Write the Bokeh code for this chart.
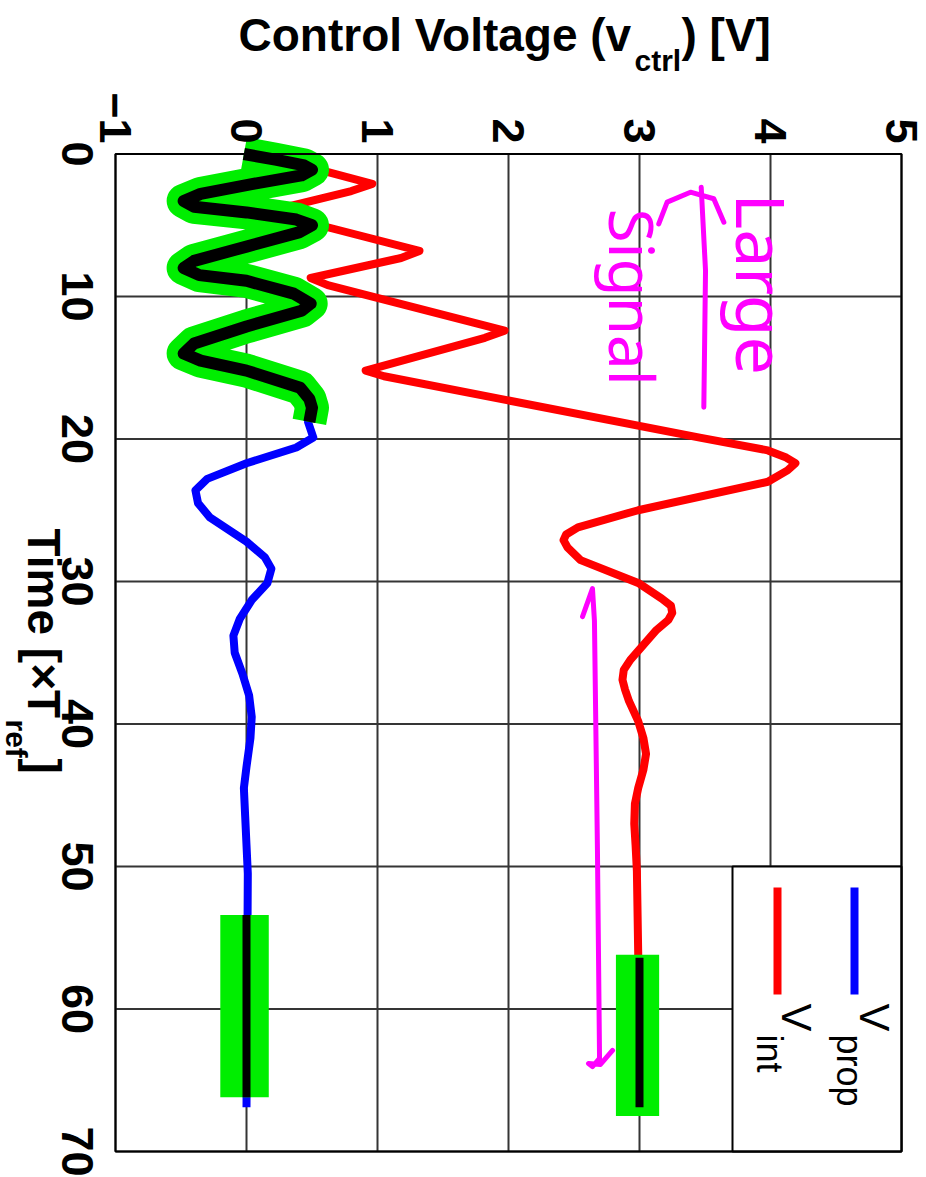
import math
from bokeh.plotting import figure
from bokeh.models import Range1d, FixedTicker, Label
from bokeh.embed import file_html
from bokeh.resources import INLINE

# ---------------- data ----------------
time_ticks = [0, 10, 20, 30, 40, 50, 60, 70]
time_tick_labels = ["0", "10", "20", "30", "40", "50", "60", "70"]
volt_ticks = [-1, 0, 1, 2, 3, 4, 5]
volt_tick_labels = ["\u22121", "0", "1", "2", "3", "4", "5"]
t_min, t_max = 0, 70
v_min, v_max = -1, 5

# v_int (red)
vint_t = [0.0, 1.16, 2.1, 2.6, 4.0, 5.0, 6.8, 7.3, 8.7, 9.2, 12.4, 12.9, 15.2, 15.6,
          19.9, 20.8, 21.3, 21.7, 22.2, 23.0, 25.0, 26.2, 26.7, 27.1, 27.6, 28.5, 30.1,
          31.2, 31.7, 32.2, 32.7, 33.4, 35.5, 36.2, 36.9, 37.6, 38.4, 39.8, 41.0, 42.1,
          43.2, 44.5, 45.6, 47.0, 48.5, 50.3, 56.0, 66.9]
vint_v = [0.47, 0.58, 0.96, 0.80, 0.18, 0.56, 1.32, 1.18, 0.49, 0.62, 1.97, 1.82, 0.91, 1.05,
          3.46, 3.98, 4.12, 4.19, 4.13, 3.98, 2.99, 2.53, 2.44, 2.42, 2.45, 2.55, 2.99,
          3.17, 3.24, 3.25, 3.22, 3.13, 2.93, 2.88, 2.87, 2.89, 2.92, 2.99, 3.03, 3.05,
          3.03, 2.99, 2.965, 2.96, 2.97, 2.98, 2.99, 3.00]

# v_prop (blue)
vprop_t = [0.0, 1.0, 2.1, 3.0, 3.5, 3.9, 5.0, 6.5, 8.0, 8.9, 10.5, 12.1, 14.0, 15.2,
           16.4, 17.8, 18.8, 19.9, 20.6, 21.7, 22.8, 23.6, 24.5, 25.5, 27.2, 28.3,
           29.1, 30.1, 31.3, 32.6, 33.8, 35.0, 36.5, 38.0, 39.5, 41.0, 43.0, 44.5,
           46.5, 48.5, 50.5, 66.9]
vprop_v = [0.0, 0.48, 0.0, -0.40, -0.31, 0.18, 0.50, 0.0, -0.47, 0.0, 0.49, 0.0, -0.48, 0.0,
           0.41, 0.49, 0.47, 0.51, 0.38, 0.0, -0.30, -0.39, -0.37, -0.28, 0.0, 0.14,
           0.19, 0.16, 0.04, -0.05, -0.10, -0.09, -0.03, 0.02, 0.04, 0.03, 0.0, -0.02,
           -0.01, 0.0, 0.01, 0.0]

# hand-drawn black trace over the small-signal part (with green highlight)
trace_t = [0.0, 0.4, 0.8, 1.1, 1.5, 2.1, 2.8, 3.3, 3.7, 4.1, 4.6, 5.0, 5.5, 6.5, 7.5,
           8.0, 8.5, 8.9, 9.8, 10.5, 11.0, 12.1, 13.3, 14.0, 14.5, 15.2, 16.4, 17.2,
           17.8, 18.8]
trace_v = [-0.02, 0.22, 0.44, 0.50, 0.42, 0.05, -0.35, -0.48, -0.40, 0.0, 0.38, 0.50, 0.40,
           0.0, -0.40, -0.48, -0.36, 0.0, 0.36, 0.49, 0.42, 0.0, -0.40, -0.48, -0.35, 0.0,
           0.41, 0.48, 0.50, 0.48]

# settled-value black marks and green highlight boxes
settle_v = [0.0, 3.0]
settle_t0 = [53.4, 56.4]
settle_t1 = [66.2, 66.9]
hl_left = [-0.20, 2.82]
hl_right = [0.17, 3.15]
hl_t0 = [53.4, 56.2]
hl_t1 = [66.2, 67.5]

# magenta hand annotations
arrow_t = [32.46, 30.5, 32.74, 48.88, 63.47, 64.04, 63.82, 63.89, 62.91]
arrow_v = [2.565, 2.641, 2.656, 2.679, 2.695, 2.641, 2.611, 2.702, 2.794]
bar_t = [2.33, 8.18, 17.77]
bar_v = [3.471, 3.504, 3.491]
brace_t = [4.90, 3.38, 2.68, 3.14, 4.79]
brace_v = [3.147, 3.211, 3.389, 3.567, 3.644]

# ---------------- layout helpers (pixel -> data) ----------------
W, H = 926, 1177
FR_L, FR_T, FR_W, FR_H = 115, 153.5, 786, 997.5
def vx(px):
    return v_min + (px - FR_L) / (FR_W / (v_max - v_min))
def ty(py):
    return t_min + (py - FR_T) / (FR_H / (t_max - t_min))

FONT = "Liberation Sans"
TICK_PX = 45

# the canvas-wide frame lets titles sit outside the plotting box without being clipped
p = figure(width=W, height=H, x_range=Range1d(vx(0), vx(W)), y_range=Range1d(ty(H), ty(0)),
           x_axis_location="above", output_backend="svg", toolbar_location=None, tools="",
           min_border=0, min_border_left=0, min_border_right=0, min_border_top=0,
           min_border_bottom=0)
p.title.visible = False
p.background_fill_color = "white"
p.border_fill_color = "white"
p.outline_line_color = None
p.xgrid.visible = False
p.ygrid.visible = False

# rotated time labels are end-anchored by Bokeh: move each anchor by half the label length
half_len = [len(s) * 0.556 * TICK_PX / 2 * (t_max - t_min) / FR_H for s in time_tick_labels]
time_label_pos = [round((t + h) * 8) / 8 for t, h in zip(time_ticks, half_len)]

for ax, ticks in ((p.xaxis[0], volt_ticks), (p.yaxis[0], time_label_pos)):
    ax.ticker = FixedTicker(ticks=ticks)
    ax.major_tick_in = 0
    ax.major_tick_out = 0
    ax.minor_tick_in = 0
    ax.minor_tick_out = 0
    ax.axis_line_color = None
    ax.major_label_text_font = FONT
    ax.major_label_text_font_style = "bold"
    ax.major_label_text_font_size = f"{TICK_PX}px"
    ax.major_label_text_color = "black"
    ax.major_label_orientation = -math.pi / 2
p.xaxis[0].major_label_overrides = {t: s for t, s in zip(volt_ticks, volt_tick_labels)}
p.yaxis[0].major_label_overrides = {t: s for t, s in zip(time_label_pos, time_tick_labels)}
p.xaxis[0].major_label_standoff = -143
p.yaxis[0].major_label_standoff = -77

# grid lines inside the plotting box
GRID = "#353535"
p.segment(x0=volt_ticks, y0=[t_min] * len(volt_ticks), x1=volt_ticks, y1=[t_max] * len(volt_ticks),
          line_color=GRID, line_width=2)
p.segment(x0=[v_min] * len(time_ticks), y0=time_ticks, x1=[v_max] * len(time_ticks), y1=time_ticks,
          line_color=GRID, line_width=2)

# legend box (covers the grid)
p.quad(left=[vx(732)], right=[v_max], top=[ty(866)], bottom=[t_max], fill_color="white",
       line_color="black", line_width=2)

# curves
p.line(vprop_v, vprop_t, line_color="#0000ff", line_width=8, line_join="round")
p.line(vint_v, vint_t, line_color="#ff0000", line_width=8, line_join="round")

# highlights
p.line(trace_v, trace_t, line_color="#00ee00", line_width=34, line_join="round", line_cap="butt")
p.quad(left=hl_left, right=hl_right, top=hl_t0, bottom=hl_t1, fill_color="#00ee00", line_color=None)
p.line(trace_v, trace_t, line_color="black", line_width=12, line_join="round")
p.segment(x0=settle_v, y0=settle_t0, x1=settle_v, y1=settle_t1, line_color="black", line_width=8)

# magenta annotations
MAG = "#ff00ff"
for xs, ys in ((arrow_v, arrow_t), (bar_v, bar_t), (brace_v, brace_t)):
    p.line(xs, ys, line_color=MAG, line_width=5, line_join="round", line_cap="round")

# legend samples
p.segment(x0=[vx(854)], y0=[ty(887)], x1=[vx(854)], y1=[ty(994)], line_color="#0000ff", line_width=8)
p.segment(x0=[vx(777)], y0=[ty(887)], x1=[vx(777)], y1=[ty(994)], line_color="#ff0000", line_width=8)

# plotting box outline
p.quad(left=[v_min], right=[v_max], top=[t_min], bottom=[t_max], fill_color=None,
       line_color="black", line_width=2)

K = 0.33  # offset of the glyph baseline from the label anchor (in em)

def lab(text, px, py, size, style="normal", color="black", rotated=False, font=FONT):
    if rotated:
        ax_, ay_ = px + K * size, py
        ang = -math.pi / 2
    else:
        ax_, ay_ = px, py - K * size
        ang = 0.0
    p.add_layout(Label(x=vx(ax_), y=ty(ay_), text=text, angle=ang, text_align="left",
                       text_baseline="alphabetic", text_font=font,
                       text_font_size=f"{size}px", text_font_style=style, text_color=color))

# axis titles
lab("Control Voltage (v", 238, 50, 46, "bold")
lab("ctrl", 634, 70, 30, "bold")
lab(") [V]", 681, 50, 46, "bold")
lab("Time [\u00d7T", 28, 528, 46, "bold", rotated=True)
lab("ref", 6, 719, 30, "bold", rotated=True)
lab("]", 28, 758, 46, "bold", rotated=True)
# legend texts
lab("V", 860, 1003, 42, rotated=True)
lab("prop", 837, 1034, 36, rotated=True)
lab("V", 782, 1003, 42, rotated=True)
lab("int", 757, 1034, 36, rotated=True)
# handwritten notes
lab("Large", 740, 193, 68, color=MAG, rotated=True, font="Noto Sans")
lab("Signal", 612, 208, 62, color=MAG, rotated=True, font="Noto Sans")

open("out.html", "w").write(file_html(p, INLINE))
